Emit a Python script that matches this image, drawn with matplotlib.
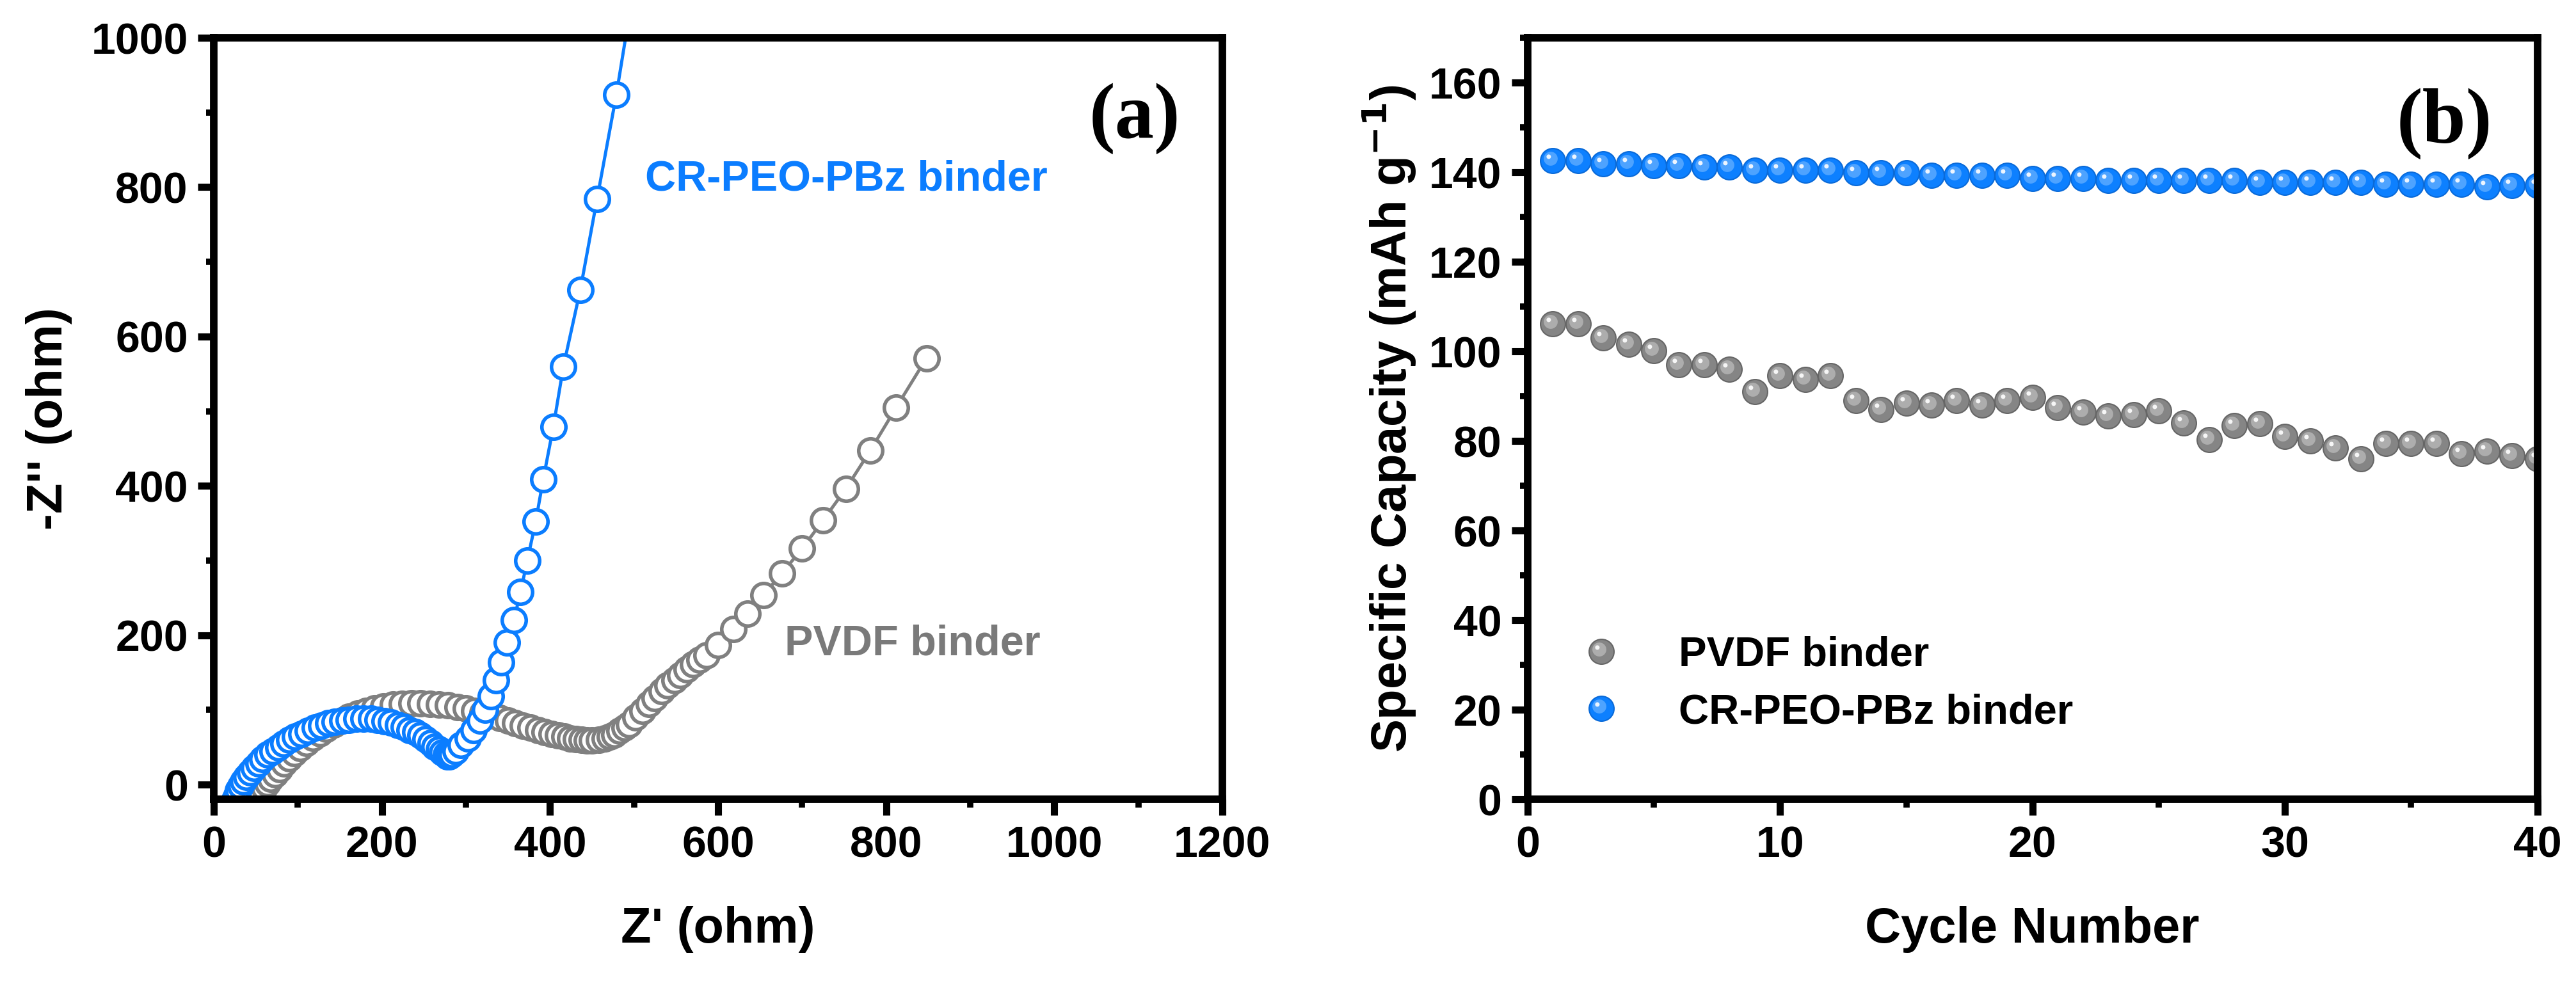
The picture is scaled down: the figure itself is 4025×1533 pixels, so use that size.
import numpy as np
import matplotlib
matplotlib.use('Agg')
import matplotlib.pyplot as plt
from matplotlib.path import Path
from matplotlib.ticker import MultipleLocator
from matplotlib.legend_handler import HandlerTuple

plt.rcParams['font.family'] = ['Liberation Sans', 'DejaVu Sans']
plt.rcParams['font.weight'] = 'bold'

# (a) Nyquist data (ohm)
pvdf_zre = [44, 46, 49, 52, 56, 60, 64, 68, 73, 78, 84, 90, 96, 103, 110, 118, 126, 134, 143, 152,
            161, 171, 181, 191, 202, 213, 224, 235, 246, 257, 268, 279, 290, 300, 310, 320, 330, 340,
            350, 359, 368, 377, 386, 394, 402, 410, 417, 424, 431, 438, 444, 450, 458, 465, 471, 477,
            483, 489, 494, 502, 510, 518, 525, 533, 540, 548, 555, 563, 570, 578, 586, 600, 618, 635,
            654, 676, 700, 725, 752, 781, 812, 848]
pvdf_zim = [-27, -24, -20, -15, -10, -4, 2, 8, 14, 21, 28, 35, 42, 49, 56, 63, 69, 75, 81, 86,
            91, 95, 99, 102, 105, 107, 108, 109, 109, 108, 107, 106, 104, 102, 99, 96, 93, 89,
            86, 82, 79, 76, 73, 70, 68, 66, 64, 62, 61, 60, 59, 59, 60, 62, 64, 67,
            72, 76, 81, 90, 99, 108, 116, 125, 133, 140, 147, 154, 161, 167, 173, 187, 208, 229,
            254, 283, 316, 354, 396, 447, 505, 571]

cr_zre = [22, 23, 25, 27, 29, 32, 35, 39, 43, 48, 53, 58, 64, 70, 77, 83, 90, 97, 104, 112,
          120, 128, 136, 144, 153, 161, 170, 178, 187, 195, 203, 211, 219, 226, 233, 240, 246, 252,
          258, 263, 268, 272, 276, 278, 280, 283, 288, 294, 302, 309, 317, 323, 330, 336, 342, 349,
          357, 365, 373, 383, 392, 404, 416, 436, 456, 479, 503]
cr_zim = [-28, -25, -20, -14, -8, -2, 4, 10, 16, 22, 28, 34, 40, 45, 50, 55, 60, 64, 68, 72,
          76, 79, 82, 84, 86, 87, 88, 88, 88, 87, 85, 83, 80, 77, 73, 70, 66, 61,
          56, 51, 47, 43, 40, 38, 38, 40, 45, 53, 62, 73, 86, 100, 118, 140, 164, 190,
          220, 258, 300, 352, 409, 479, 560, 662, 784, 924, 1090]

# (b) cycling data (mAh/g)
cycles = list(range(1, 41))
pvdf_cap = [106.2, 106.2, 103.0, 101.6, 100.2, 97.0, 97.0, 96.0, 91.0, 94.6,
            93.7, 94.6, 89.0, 87.1, 88.5, 88.1, 89.0, 88.1, 89.0, 89.7,
            87.4, 86.4, 85.6, 85.9, 86.7, 84.1, 80.3, 83.4, 83.9, 81.0,
            80.1, 78.5, 76.1, 79.4, 79.4, 79.4, 77.2, 77.8, 76.8, 76.1]
cr_cap = [142.6, 142.6, 141.9, 141.9, 141.5, 141.5, 141.1, 141.1, 140.5, 140.5,
          140.5, 140.5, 139.8, 139.8, 139.8, 139.3, 139.3, 139.3, 139.3, 138.6,
          138.6, 138.6, 138.1, 138.1, 138.1, 138.1, 138.1, 138.1, 137.7, 137.7,
          137.7, 137.7, 137.7, 137.3, 137.3, 137.3, 137.3, 136.7, 137.0, 137.0]

blue = '#0b7dff'
gray = '#808080'

fig = plt.figure(figsize=(40.25, 15.33), dpi=100)
ax1 = fig.add_axes([0.083, 0.185, 0.3915, 0.7765])
ax2 = fig.add_axes([0.593, 0.185, 0.392, 0.7765])


def style_axes(ax):
    for s in ax.spines.values():
        s.set_linewidth(8.5)
    ax.tick_params(which='major', direction='out', length=18, width=8, pad=11,
                   labelsize=49, top=False, right=False)
    ax.tick_params(which='minor', direction='out', length=9, width=7, top=False, right=False)
    for lab in ax.get_xticklabels() + ax.get_yticklabels():
        lab.set_fontweight('bold')


# ---- panel (a)
ax1.plot(pvdf_zre, pvdf_zim, '-o', color=gray, lw=3.6, ms=27, mfc='white', mec=gray, mew=4)
ax1.plot(cr_zre, cr_zim, '-o', color=blue, lw=3.6, ms=27, mfc='white', mec=blue, mew=4)
ax1.set_xlim(0, 1200)
ax1.set_ylim(-20, 1000)
ax1.xaxis.set_major_locator(MultipleLocator(200))
ax1.xaxis.set_minor_locator(MultipleLocator(100))
ax1.yaxis.set_major_locator(MultipleLocator(200))
ax1.yaxis.set_minor_locator(MultipleLocator(100))
style_axes(ax1)
ax1.set_xlabel("Z' (ohm)", fontsize=56, fontweight='bold')
ax1.set_ylabel("-Z'' (ohm)", fontsize=56, fontweight='bold')
ax1.xaxis.set_label_coords(0.5, -0.14)
ax1.yaxis.set_label_coords(-0.14, 0.5)
ax1.text(513, 810, 'CR-PEO-PBz binder', color=blue, fontsize=48, fontweight='bold', va='center')
ax1.text(679, 188, 'PVDF binder', color='#7a7a7a', fontsize=48, fontweight='bold', va='center')
ax1.text(0.913, 0.894, '(a)', transform=ax1.transAxes, ha='center', va='center',
         fontsize=88, fontweight='bold', family=['Liberation Serif', 'DejaVu Serif'])


# ---- panel (b): shaded balls = base marker + offset highlight markers
def offset_dot(cx, cy, r):
    p = Path.circle((cx, cy), r)
    return p, np.max(np.abs(p.vertices))


ms_b = 28
hl1, s1 = offset_dot(-0.09, 0.09, 0.28)
hl2, s2 = offset_dot(-0.17, 0.17, 0.09)

series = [(pvdf_cap, 'PVDF binder', '#858585', '#666666', '#b5b5b5'),
          (cr_cap, 'CR-PEO-PBz binder', '#0d80ff', '#0a6ad8', '#5aaaff')]
handles = []
for vals, lab, base, edge, light in series:
    h0, = ax2.plot(cycles, vals, 'o', ms=ms_b, mfc=base, mec=edge, mew=1.5, label=lab)
    h1, = ax2.plot(cycles, vals, ls='none', marker=hl1, ms=ms_b * s1 / 0.5, mfc=light, mew=0, alpha=0.85)
    h2, = ax2.plot(cycles, vals, ls='none', marker=hl2, ms=ms_b * s2 / 0.5, mfc='white', mew=0, alpha=0.9)
    handles.append((h0, h1, h2))

ax2.legend(handles, [s[1] for s in series], handler_map={tuple: HandlerTuple(ndivide=1)},
           loc='lower left', bbox_to_anchor=(0.005, 0.04), frameon=False,
           handletextpad=1.1, labelspacing=0.45, handlelength=1.5,
           prop={'weight': 'bold', 'size': 47})

ax2.set_xlim(0, 40)
ax2.set_ylim(0, 170)
ax2.xaxis.set_major_locator(MultipleLocator(10))
ax2.xaxis.set_minor_locator(MultipleLocator(5))
ax2.yaxis.set_major_locator(MultipleLocator(20))
ax2.yaxis.set_minor_locator(MultipleLocator(10))
style_axes(ax2)
ax2.set_xlabel('Cycle Number', fontsize=56, fontweight='bold')
ax2.set_ylabel('Specific Capacity (mAh g$^{\\mathbf{-1}}$)', fontsize=56, fontweight='bold')
ax2.xaxis.set_label_coords(0.5, -0.14)
ax2.yaxis.set_label_coords(-0.108, 0.5)
ax2.text(0.908, 0.887, '(b)', transform=ax2.transAxes, ha='center', va='center',
         fontsize=88, fontweight='bold', family=['Liberation Serif', 'DejaVu Serif'])

fig.savefig('out.png', dpi=100)
